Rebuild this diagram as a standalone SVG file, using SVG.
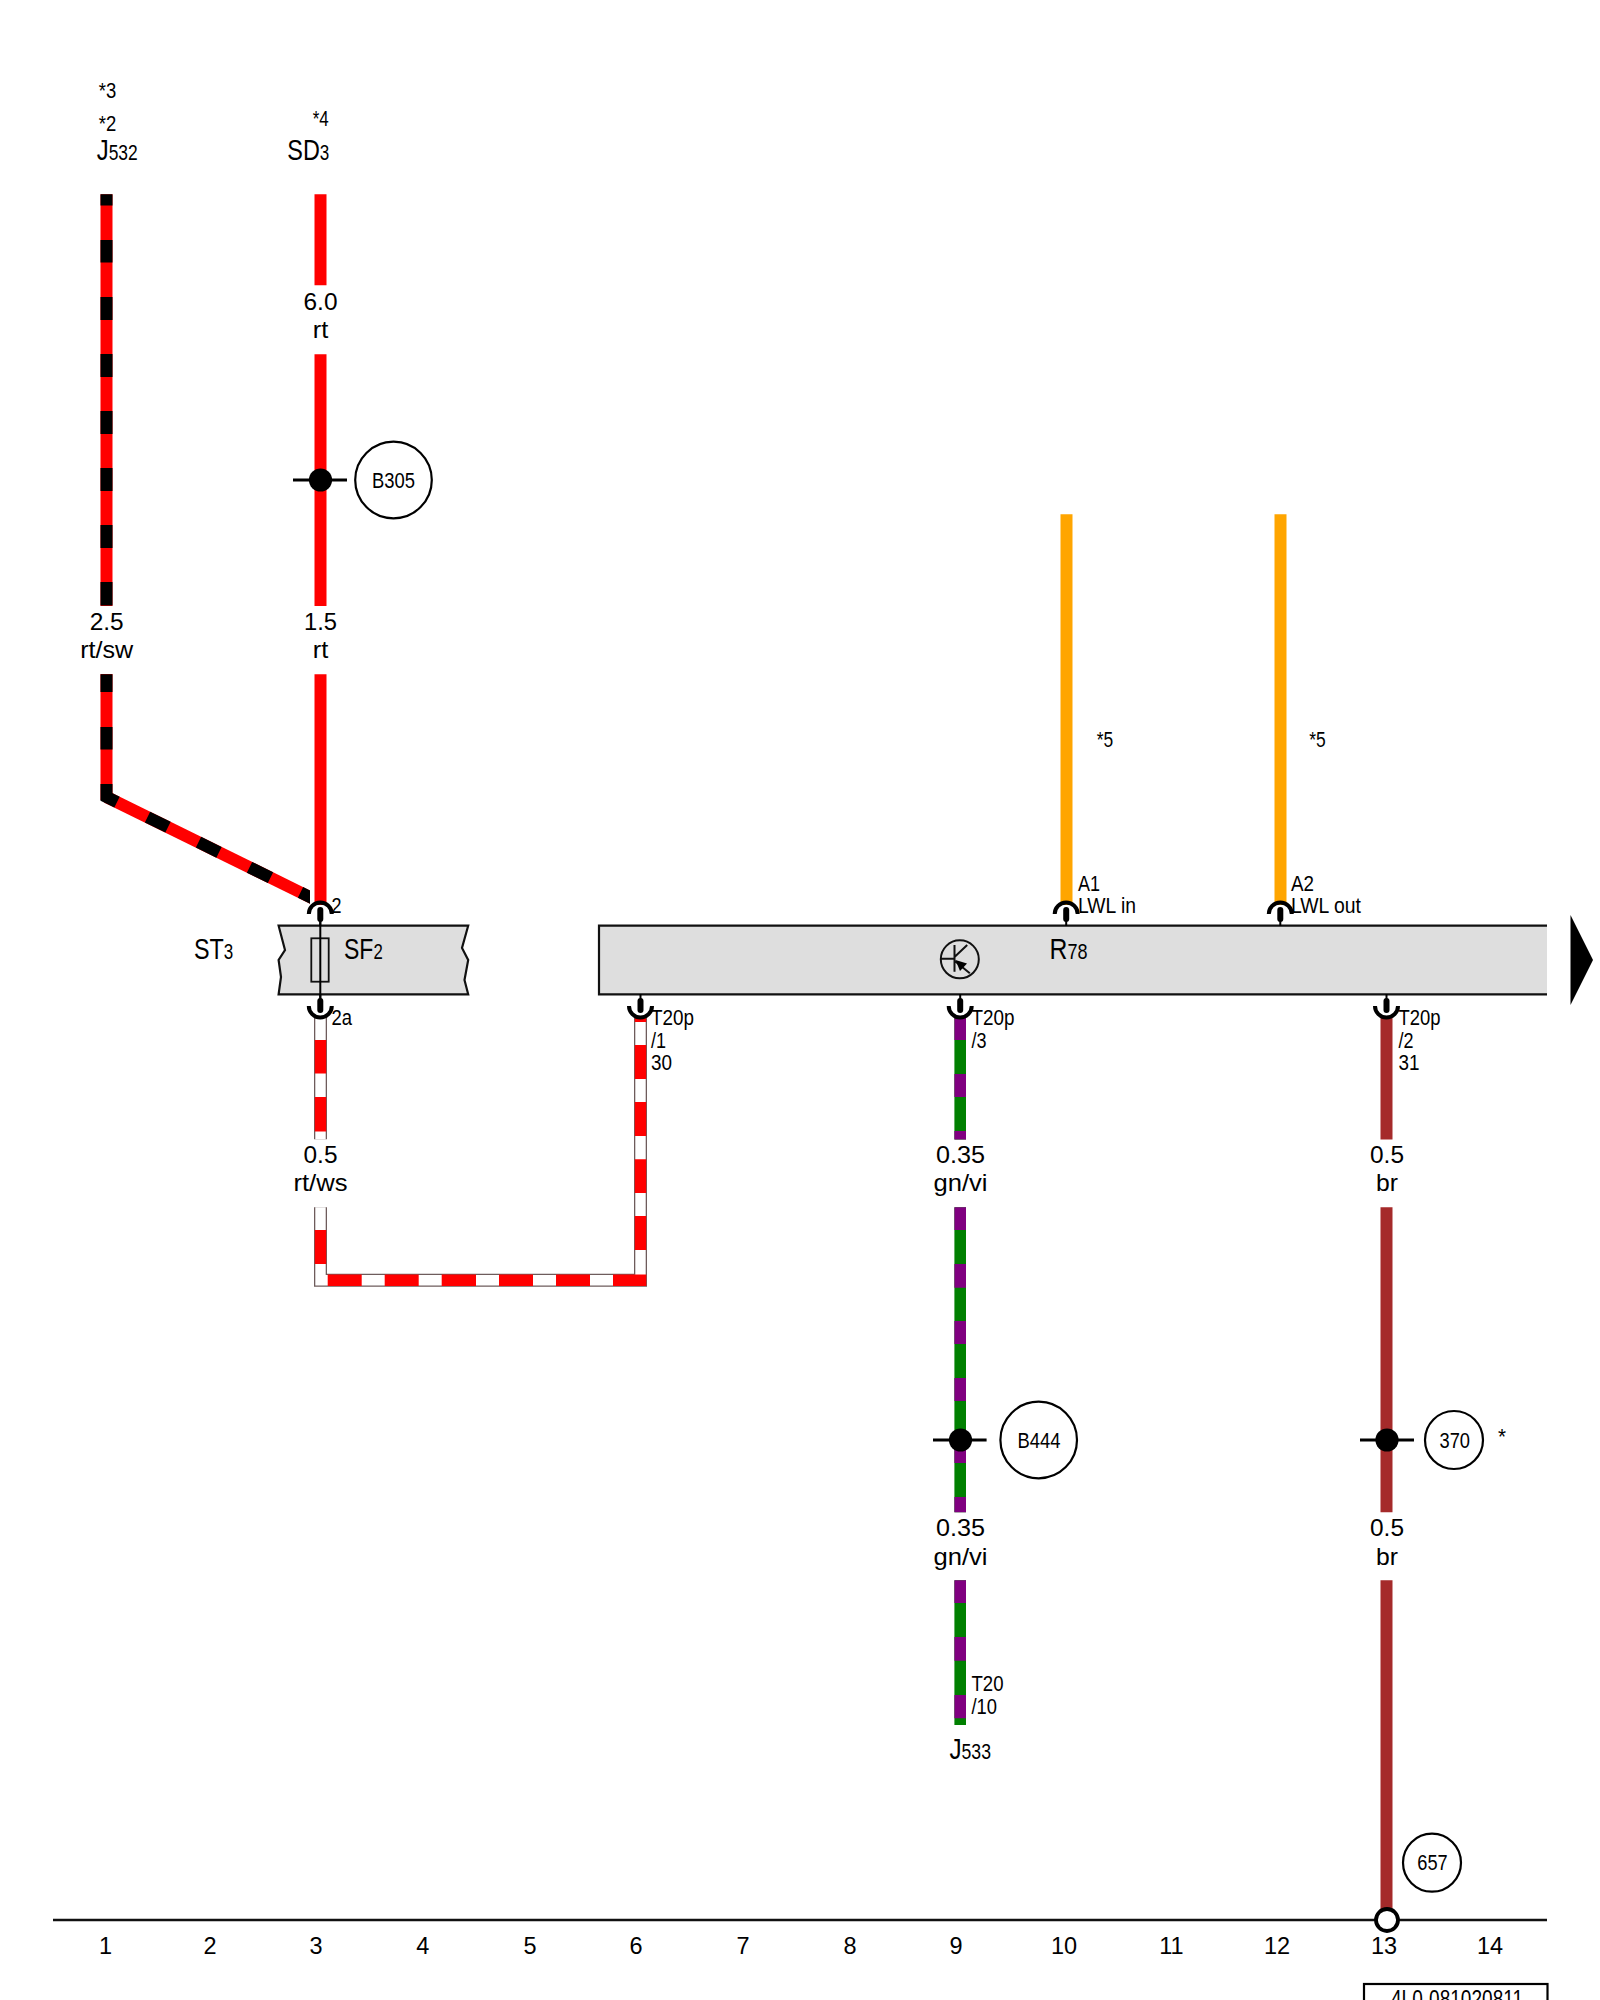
<svg xmlns="http://www.w3.org/2000/svg" width="1600" height="2000" viewBox="0 0 1600 2000">
<style>
text{font-family:"Liberation Sans",Arial,sans-serif;fill:#000}
.n{font-size:23.5px;text-anchor:middle}
.m{font-size:24px;text-anchor:middle}
.s{font-size:22.5px}
.l{font-size:29.5px}
.sub{font-size:21.5px}
.w{fill:none;stroke-linejoin:miter}
.rt{stroke:#f00;stroke-width:12}
.sw{stroke:#000;stroke-width:12}
.or{stroke:#ffa500;stroke-width:12}
.gn{stroke:#008000;stroke-width:11.6}
.vi{stroke:#800080;stroke-width:11.6}
.br{stroke:#a52a2a;stroke-width:12}
.wo{stroke:#6e5c5c;stroke-width:13;fill:none}
.wi{stroke:#fff;stroke-width:10.4;fill:none}
.wr{stroke:#f00;stroke-width:11.4;fill:none}
.box{fill:#dedede;stroke:#111;stroke-width:2.2}
.arc{fill:none;stroke:#000;stroke-width:4}
.pin{fill:none;stroke:#000;stroke-width:6;stroke-linecap:round}
.thin{fill:none;stroke:#000;stroke-width:2}
.cir{fill:#fff;stroke:#000;stroke-width:2.2}
.hair{stroke:#000;stroke-width:3}
</style>
<defs>
<clipPath id="diagClip"><rect x="90" y="780" width="220" height="130"/></clipPath>
<g id="connTop"><path class="arc" d="M-11.5 14A11.5 11.5 0 0 1 11.5 14"/><path class="pin" d="M0 10V19"/><path class="thin" d="M0 19V26"/></g>
<g id="connBot"><path class="arc" d="M-11.5 -14A11.5 11.5 0 0 0 11.5 -14"/><path class="pin" d="M0 -10V-19"/><path class="thin" d="M0 -19V-26"/></g>
</defs>
<rect width="1600" height="2000" fill="#fff"/>

<g id="connectors">
<path class="w rt" d="M106.5 194.3V606M106.5 674V800"/>
<path class="w sw" d="M106.5 194.3V205.5M106.5 240V262.5M106.5 297V320M106.5 354V377M106.5 411V434M106.5 468V491M106.5 525V548M106.5 582V605.5M106.5 674.3V692M106.5 727V749.5"/>
<g clip-path="url(#diagClip)">
<path class="w rt" d="M106.5 797L322 903"/>
<path class="w sw" d="M147.5 817.1L168 827.2M198.5 842.2L219 852.3M249.5 867.3L270.5 877.6M300.5 892.4L322 903"/>
</g>
<path class="w sw" d="M106.5 784V797L117 802.2"/>
<path class="w rt" d="M320.5 194.3V285.3M320.5 354.3V606M320.5 674.3V905"/>
<path class="w or" d="M1066.5 514.3V905M1280.5 514.3V905"/>

<path class="wo" d="M320.5 1016V1139.3M320.5 1207.3V1280.3H640.5V1016"/>
<path class="wi" d="M320.5 1016V1139.3M320.5 1207.3V1280.3H640.5V1016"/>
<path class="wr" d="M320.5 1040V1073.5M320.5 1097V1131.5M320.5 1230V1264M327.7 1280.3H361.7M384.7 1280.3H418.7M441.7 1280.3H476M499 1280.3H533M556 1280.3H590M613 1280.3H646.3M640.5 1250V1216M640.5 1193V1159.3M640.5 1136V1102M640.5 1079V1045M640.5 1022V1016"/>

<path class="w gn" d="M960.2 1016V1139.5M960.2 1207.3V1512.3M960.2 1580.3V1725"/>
<path class="w vi" d="M960.2 1016V1040M960.2 1074V1097M960.2 1131V1139.5M960.2 1207.3V1230M960.2 1264V1287.7M960.2 1321V1344M960.2 1378V1401M960.2 1440V1463M960.2 1497V1512.3M960.2 1580.3V1603M960.2 1637V1660.7M960.2 1695V1718.3"/>
<path class="w br" d="M1386.5 1016V1139.5M1386.5 1207.3V1512.3M1386.5 1580.3V1915"/>
</g>

<g id="J532"><text class="s" x="98.7" y="98" textLength="17.5" lengthAdjust="spacingAndGlyphs">*3</text><text class="s" x="98.7" y="130.5" textLength="17.5" lengthAdjust="spacingAndGlyphs">*2</text><text class="l" x="96.7" y="160" textLength="41" lengthAdjust="spacingAndGlyphs">J<tspan class="sub">532</tspan></text></g>
<g id="SD3"><text class="s" x="312.7" y="126" textLength="16" lengthAdjust="spacingAndGlyphs">*4</text><text class="l" x="287.3" y="160" textLength="42" lengthAdjust="spacingAndGlyphs">SD<tspan class="sub">3</tspan></text></g>

<g id="wire-labels">
<text class="m" x="320.5" y="310" textLength="34" lengthAdjust="spacingAndGlyphs">6.0</text><text class="m" x="320.5" y="337.7" textLength="15.5" lengthAdjust="spacingAndGlyphs">rt</text>
<text class="m" x="106.7" y="630" textLength="34" lengthAdjust="spacingAndGlyphs">2.5</text><text class="m" x="106.7" y="658" textLength="53" lengthAdjust="spacingAndGlyphs">rt/sw</text>
<text class="m" x="320.5" y="630" textLength="33" lengthAdjust="spacingAndGlyphs">1.5</text><text class="m" x="320.5" y="658" textLength="15.5" lengthAdjust="spacingAndGlyphs">rt</text>
<text class="m" x="320.5" y="1162.7" textLength="34" lengthAdjust="spacingAndGlyphs">0.5</text><text class="m" x="320.5" y="1191" textLength="54" lengthAdjust="spacingAndGlyphs">rt/ws</text>
<text class="m" x="960.5" y="1162.7" textLength="49" lengthAdjust="spacingAndGlyphs">0.35</text><text class="m" x="960.5" y="1191" textLength="54" lengthAdjust="spacingAndGlyphs">gn/vi</text>
<text class="m" x="1387" y="1162.7" textLength="34" lengthAdjust="spacingAndGlyphs">0.5</text><text class="m" x="1387" y="1191" textLength="22" lengthAdjust="spacingAndGlyphs">br</text>
<text class="m" x="960.5" y="1535.7" textLength="49" lengthAdjust="spacingAndGlyphs">0.35</text><text class="m" x="960.5" y="1565" textLength="54" lengthAdjust="spacingAndGlyphs">gn/vi</text>
<text class="m" x="1387" y="1535.7" textLength="34" lengthAdjust="spacingAndGlyphs">0.5</text><text class="m" x="1387" y="1565" textLength="22" lengthAdjust="spacingAndGlyphs">br</text>
<text class="s" x="1096.7" y="747.3" textLength="16.5" lengthAdjust="spacingAndGlyphs">*5</text>
<text class="s" x="1309.3" y="747.3" textLength="16.5" lengthAdjust="spacingAndGlyphs">*5</text>
</g>

<g id="ST3">
<text class="l" x="194" y="959.3" textLength="39.3" lengthAdjust="spacingAndGlyphs">ST<tspan class="sub">3</tspan></text>
<path class="box" d="M278.6 925.7H468.2L462 948L468.2 960L464.5 980L468.2 994.3H278.6L281 977L278.6 960L285 950Z"/>
<rect x="311.3" y="938.3" width="17.4" height="43.4" fill="none" stroke="#111" stroke-width="1.8"/>
<path class="thin" d="M320.3 918V1000"/>
<use href="#connTop" x="320.3" y="900"/>
<use href="#connBot" x="320.3" y="1020"/>
<text class="l" x="344" y="959.3" textLength="38.7" lengthAdjust="spacingAndGlyphs">SF<tspan class="sub">2</tspan></text>
<text class="s" x="331.5" y="913.3" textLength="10" lengthAdjust="spacingAndGlyphs">2</text>
<text class="s" x="331.5" y="1025" textLength="20.5" lengthAdjust="spacingAndGlyphs">2a</text>
</g>

<g id="R78">
<path d="M599 925.7H1547V994.3H599Z" fill="#dedede"/>
<path d="M1547 925.7H599V994.3H1547" fill="none" stroke="#111" stroke-width="2.2"/>
<text class="l" x="1049.6" y="959.3" textLength="38" lengthAdjust="spacingAndGlyphs">R<tspan class="sub">78</tspan></text>
<circle cx="959.8" cy="959.3" r="19" fill="none" stroke="#111" stroke-width="2"/>
<path fill="none" stroke="#111" stroke-width="2" d="M941 958.8H954.5M954.5 945V971.7M954.5 957L967.2 945M954.5 960.7L969.8 973.3"/>
<path d="M955.5 960L967 963.5L960 971Z" fill="#000"/>
<use href="#connTop" x="1066.2" y="900"/>
<use href="#connTop" x="1280.3" y="900"/>
<use href="#connBot" x="640.5" y="1020"/>
<use href="#connBot" x="960.2" y="1020"/>
<use href="#connBot" x="1386.5" y="1020"/>
<path d="M1570.5 915L1593 960L1570.5 1005Z" fill="#000"/>
<g class="pinlabels">
<text class="s" x="1078" y="890.5" textLength="22" lengthAdjust="spacingAndGlyphs">A1</text>
<text class="s" x="1078" y="913" textLength="58" lengthAdjust="spacingAndGlyphs">LWL in</text>
<text class="s" x="1291" y="890.5" textLength="23" lengthAdjust="spacingAndGlyphs">A2</text>
<text class="s" x="1291" y="913" textLength="70" lengthAdjust="spacingAndGlyphs">LWL out</text>
<text class="s" x="651" y="1024.5" textLength="43" lengthAdjust="spacingAndGlyphs">T20p</text>
<text class="s" x="651" y="1047.5" textLength="15" lengthAdjust="spacingAndGlyphs">/1</text>
<text class="s" x="651" y="1069.5" textLength="21" lengthAdjust="spacingAndGlyphs">30</text>
<text class="s" x="971.5" y="1024.5" textLength="43" lengthAdjust="spacingAndGlyphs">T20p</text>
<text class="s" x="971.5" y="1047.5" textLength="15" lengthAdjust="spacingAndGlyphs">/3</text>
<text class="s" x="1398.5" y="1024.5" textLength="42" lengthAdjust="spacingAndGlyphs">T20p</text>
<text class="s" x="1398.5" y="1047.5" textLength="15" lengthAdjust="spacingAndGlyphs">/2</text>
<text class="s" x="1398.5" y="1069.5" textLength="21" lengthAdjust="spacingAndGlyphs">31</text>
</g>
</g>

<g id="B305"><path class="hair" d="M293 480H347"/><circle cx="320.5" cy="480" r="11.6"/><circle class="cir" cx="393.5" cy="480" r="38.3"/><text class="s" x="372" y="487.5" textLength="43" lengthAdjust="spacingAndGlyphs">B305</text></g>
<g id="B444"><path class="hair" d="M933 1440H986.6"/><circle cx="960.5" cy="1440" r="11.6"/><circle class="cir" cx="1038.7" cy="1440" r="38.3"/><text class="s" x="1017.4" y="1447.5" textLength="43" lengthAdjust="spacingAndGlyphs">B444</text></g>
<g id="n370"><path class="hair" d="M1360 1440H1414"/><circle cx="1387" cy="1440" r="11.6"/><circle class="cir" cx="1454" cy="1440" r="29"/><text class="s" x="1439.5" y="1447.5" textLength="30.5" lengthAdjust="spacingAndGlyphs">370</text><text class="s" x="1498" y="1444" textLength="8" lengthAdjust="spacingAndGlyphs">*</text></g>
<g id="n657"><circle class="cir" cx="1432" cy="1862.7" r="29"/><text class="s" x="1417.3" y="1870" textLength="30.4" lengthAdjust="spacingAndGlyphs">657</text></g>
<g id="J533"><text class="s" x="971.5" y="1690.5" textLength="32" lengthAdjust="spacingAndGlyphs">T20</text><text class="s" x="971.5" y="1713.5" textLength="25.5" lengthAdjust="spacingAndGlyphs">/10</text><text class="l" x="949.4" y="1759.3" textLength="41.6" lengthAdjust="spacingAndGlyphs">J<tspan class="sub">533</tspan></text></g>

<g id="baseline">
<path d="M53 1920H1547" fill="none" stroke="#111" stroke-width="2.4"/>
<circle cx="1387" cy="1920" r="11" fill="#fff" stroke="#000" stroke-width="3.8"/>
<text class="n" x="105.5" y="1954">1</text><text class="n" x="210" y="1954">2</text><text class="n" x="316" y="1954">3</text><text class="n" x="422.7" y="1954">4</text><text class="n" x="530" y="1954">5</text><text class="n" x="636" y="1954">6</text><text class="n" x="743" y="1954">7</text><text class="n" x="850" y="1954">8</text><text class="n" x="956" y="1954">9</text><text class="n" x="1064" y="1954">10</text><text class="n" x="1171.5" y="1954">11</text><text class="n" x="1277" y="1954">12</text><text class="n" x="1384" y="1954">13</text><text class="n" x="1490" y="1954">14</text>
</g>

<g id="footer"><rect x="1364" y="1984" width="183.5" height="30" fill="#fff" stroke="#000" stroke-width="2.2"/><text x="1391" y="2007" font-size="24" textLength="132" lengthAdjust="spacingAndGlyphs">4L0-081020811</text></g>
</svg>
